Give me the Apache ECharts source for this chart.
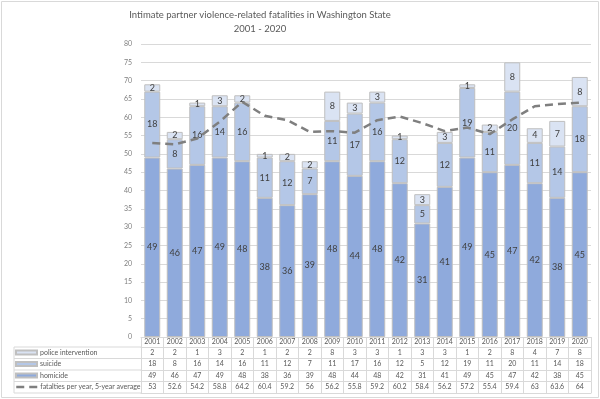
<!DOCTYPE html>
<html>
<head>
<meta charset="utf-8">
<script src="https://cdn.jsdelivr.net/npm/echarts@6/dist/echarts.min.js"></script>
<style>
html, body { margin: 0; padding: 0; background: #fff; }
#chart { width: 600px; height: 399px; }
</style>
</head>
<body>
<div id="chart"></div>
<script>
// 数据
let years = ["2001", "2002", "2003", "2004", "2005", "2006", "2007", "2008", "2009", "2010",
    "2011", "2012", "2013", "2014", "2015", "2016", "2017", "2018", "2019", "2020"]
let police = [2, 2, 1, 3, 2, 1, 2, 2, 8, 3, 3, 1, 3, 3, 1, 2, 8, 4, 7, 8]
let suicide = [18, 8, 16, 14, 16, 11, 12, 7, 11, 17, 16, 12, 5, 12, 19, 11, 20, 11, 14, 18]
let homicide = [49, 46, 47, 49, 48, 38, 36, 39, 48, 44, 48, 42, 31, 41, 49, 45, 47, 42, 38, 45]
let average = [53, 52.6, 54.2, 58.8, 64.2, 60.4, 59.2, 56, 56.2, 55.8, 59.2, 60.2, 58.4, 56.2, 57.2, 55.4, 59.4, 63, 63.6, 64]
let names = ["police intervention", "suicide", "homicide", "fatalties per year, 5-year average"]

let font = 'Lato'
let gridColor = '#d9d9d9'
let textColor = '#595959'
let lineColor = '#7f7f7f'

// 表格行：每一行用一条带偏移的类目轴画出来
let rowTop = [10, 21.5, 33, 44.5]
let rowData = [police, suicide, homicide, average]

let tableAxes = rowData.map((vals, i) => ({
    type: 'category',
    position: 'bottom',
    offset: rowTop[i],
    data: vals.map(String),
    axisLine: { show: true, lineStyle: { color: gridColor } },
    axisTick: { show: true, interval: 0, length: 11.5, lineStyle: { color: gridColor } },
    axisLabel: { interval: 0, margin: 2, fontSize: 7, color: textColor, fontFamily: font },
    splitLine: { show: false }
}))
// 表格底线
tableAxes.push({
    type: 'category',
    position: 'bottom',
    offset: 56,
    data: years,
    axisLine: { show: true, lineStyle: { color: gridColor } },
    axisTick: { show: false },
    axisLabel: { show: false },
    splitLine: { show: false }
})

let legendTops = [349, 360.5, 372, 383.5]
let legends = names.map((n, i) => {
    let lg = {
        data: [n],
        left: 15,
        top: legendTops[i],
        padding: 0,
        icon: i === 3 ? undefined : 'rect',
        itemWidth: 21,
        itemHeight: i === 3 ? 8 : 4,
        itemGap: 0,
        textStyle: { fontSize: 7, color: textColor, fontFamily: font, padding: [0, 0, 0, -2] }
    }
    if (i === 3) {
        lg.itemStyle = { opacity: 0 }
        lg.lineStyle = { color: lineColor, width: 2.5, type: [8, 5] }
    }
    return lg
})

let barStyle = (color) => ({ color: color, borderColor: '#bfbfbf', borderWidth: 1 })
let barLabel = { show: true, position: 'inside', fontSize: 9, color: '#404040', fontFamily: font }

let chart = echarts.init(document.getElementById('chart'));
let option = {
    animation: false,
    textStyle: { fontFamily: font },
    legend: legends,
    grid: { left: 141, right: 9, top: 44, bottom: 62, containLabel: false, outerBoundsMode: 'none' },
    xAxis: [{
        type: 'category',
        position: 'bottom',
        data: years,
        axisLine: { show: true, lineStyle: { color: gridColor } },
        axisTick: { show: true, interval: 0, length: 10, lineStyle: { color: gridColor } },
        axisLabel: { interval: 0, margin: 1.5, fontSize: 7, color: textColor, fontFamily: font },
        splitLine: { show: false }
    }].concat(tableAxes),
    yAxis: {
        type: 'value',
        min: 0,
        max: 80,
        interval: 5,
        axisLine: { show: false },
        axisTick: { show: false },
        axisLabel: { margin: 9, fontSize: 7, color: lineColor, fontFamily: font },
        splitLine: { lineStyle: { color: gridColor } }
    },
    series: [{
        name: names[2],
        type: 'bar',
        stack: 'total',
        barCategoryGap: '29%',
        data: homicide,
        itemStyle: barStyle('#8faadc'),
        label: barLabel
    }, {
        name: names[1],
        type: 'bar',
        stack: 'total',
        data: suicide,
        itemStyle: barStyle('#b4c7e7'),
        label: barLabel
    }, {
        name: names[0],
        type: 'bar',
        stack: 'total',
        data: police,
        itemStyle: barStyle('#dae3f3'),
        label: barLabel
    }, {
        name: names[3],
        type: 'line',
        data: average,
        symbol: 'none',
        z: 5,
        itemStyle: { color: lineColor },
        lineStyle: { color: lineColor, width: 2.5, type: [8, 5] }
    }],
    graphic: [
        { type: 'rect', shape: { x: 1.5, y: 1.5, width: 597, height: 396 }, style: { fill: 'none', stroke: gridColor }, silent: true },
        { type: 'text', x: 260, y: 15, style: { text: 'Intimate partner violence-related fatalities in Washington State', fontSize: 9.5, fill: textColor, fontFamily: font, align: 'center', verticalAlign: 'middle' } },
        { type: 'text', x: 260, y: 29, style: { text: '2001 - 2020', fontSize: 9.5, fill: textColor, fontFamily: font, align: 'center', verticalAlign: 'middle' } },
        { type: 'line', shape: { x1: 14, y1: 347, x2: 141, y2: 347 }, style: { stroke: gridColor } },
        { type: 'line', shape: { x1: 14, y1: 358.5, x2: 141, y2: 358.5 }, style: { stroke: gridColor } },
        { type: 'line', shape: { x1: 14, y1: 370, x2: 141, y2: 370 }, style: { stroke: gridColor } },
        { type: 'line', shape: { x1: 14, y1: 381.5, x2: 141, y2: 381.5 }, style: { stroke: gridColor } },
        { type: 'line', shape: { x1: 14, y1: 393, x2: 141, y2: 393 }, style: { stroke: gridColor } },
        { type: 'line', shape: { x1: 14, y1: 347, x2: 14, y2: 393 }, style: { stroke: gridColor } }
    ]
};
chart.setOption(option);
</script>
</body>
</html>
